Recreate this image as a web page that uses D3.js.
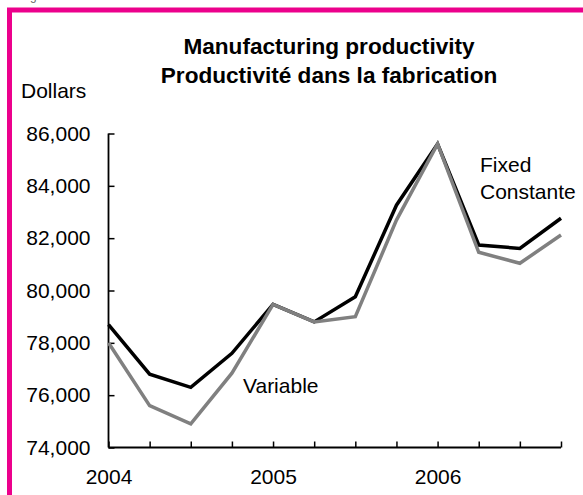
<!DOCTYPE html>
<html>
<head>
<meta charset="utf-8">
<script src="https://cdn.jsdelivr.net/npm/d3@7"></script>
<style>
  body { margin: 0; background: #fff; }
  svg { display: block; font-family: "Liberation Sans", Arial, sans-serif; }
</style>
</head>
<body>
<div id="chart"></div>
<script>
// quarters 2004Q1 .. 2006Q4
const quarters = ["2004Q1","2004Q2","2004Q3","2004Q4","2005Q1","2005Q2","2005Q3","2005Q4","2006Q1","2006Q2","2006Q3","2006Q4"];
const fixedValues = [78700, 76800, 76300, 77600, 79470, 78800, 79760, 83260, 85600, 81740, 81610, 82760];
const variableValues = [78000, 75600, 74900, 76840, 79470, 78800, 79000, 82690, 85600, 81460, 81040, 82120];
const yTicks = [74000, 76000, 78000, 80000, 82000, 84000, 86000];
const yearLabels = {"2004Q1": "2004", "2005Q1": "2005", "2006Q1": "2006"};

const W = 583, H = 495;
const margin = { top: 133.5, right: 22, bottom: 47.5, left: 108.5 };
const width = W - margin.left - margin.right;
const height = H - margin.top - margin.bottom;

const svg = d3.select("#chart").append("svg")
              .attr("width", W)
              .attr("height", H);

// pink frame (runs off the right and bottom edges)
svg.append("rect")
   .attr("x", 9.5).attr("y", 10)
   .attr("width", W + 20).attr("height", H + 20)
   .attr("fill", "none")
   .attr("stroke", "#ec008c")
   .attr("stroke-width", 5);

// figure caption, cut off by the top edge as in the original
svg.append("text")
   .attr("x", 20).attr("y", 0)
   .attr("font-size", 12)
   .attr("fill", "#666")
   .text("Figure 1");

// titles
svg.append("text")
   .attr("x", 329).attr("y", 54)
   .attr("text-anchor", "middle")
   .attr("font-size", 22.6).attr("font-weight", "bold")
   .text("Manufacturing productivity");
svg.append("text")
   .attr("x", 329).attr("y", 83)
   .attr("text-anchor", "middle")
   .attr("font-size", 22.6).attr("font-weight", "bold")
   .text("Productivité dans la fabrication");

svg.append("text")
   .attr("x", 21).attr("y", 98)
   .attr("font-size", 21)
   .text("Dollars");

const x = d3.scalePoint().domain(quarters).range([0, width]);
const y = d3.scaleLinear().domain([74000, 86000]).range([height, 0]);

const g = svg.append("g")
             .attr("transform", `translate(${margin.left},${margin.top})`);

// y axis
const yAxis = g.append("g")
   .call(d3.axisLeft(y).tickValues(yTicks).tickFormat(d3.format(",")).tickSize(-6).tickPadding(18));
yAxis.select(".domain").attr("stroke-width", 1.8).attr("d", `M0,0V${height}`);
yAxis.selectAll(".tick line").attr("stroke-width", 1.5);
yAxis.selectAll("text").attr("font-size", 21).attr("font-family", null).attr("fill", "#000");

// x axis
const xAxis = g.append("g")
   .attr("transform", `translate(0,${height})`)
   .call(d3.axisBottom(x).tickSize(-6).tickPadding(22).tickFormat(d => yearLabels[d] || ""));
xAxis.select(".domain").attr("stroke-width", 2.2).attr("d", `M0,0H${width}`);
xAxis.selectAll(".tick line").attr("stroke-width", 1.5);
xAxis.selectAll("text").attr("font-size", 21).attr("font-family", null).attr("fill", "#000");

const line = d3.line()
               .x((d, i) => x(quarters[i]))
               .y(d => y(d));

g.append("path")
 .datum(fixedValues)
 .attr("fill", "none")
 .attr("stroke", "#000")
 .attr("stroke-width", 3.5)
 .attr("d", line);

g.append("path")
 .datum(variableValues)
 .attr("fill", "none")
 .attr("stroke", "#808080")
 .attr("stroke-width", 3.5)
 .attr("d", line);

// series labels
svg.append("text")
   .attr("x", 480).attr("y", 172)
   .attr("font-size", 21)
   .text("Fixed");
svg.append("text")
   .attr("x", 480).attr("y", 199)
   .attr("font-size", 21)
   .text("Constante");
svg.append("text")
   .attr("x", 243).attr("y", 393)
   .attr("font-size", 21)
   .text("Variable");
</script>
</body>
</html>
